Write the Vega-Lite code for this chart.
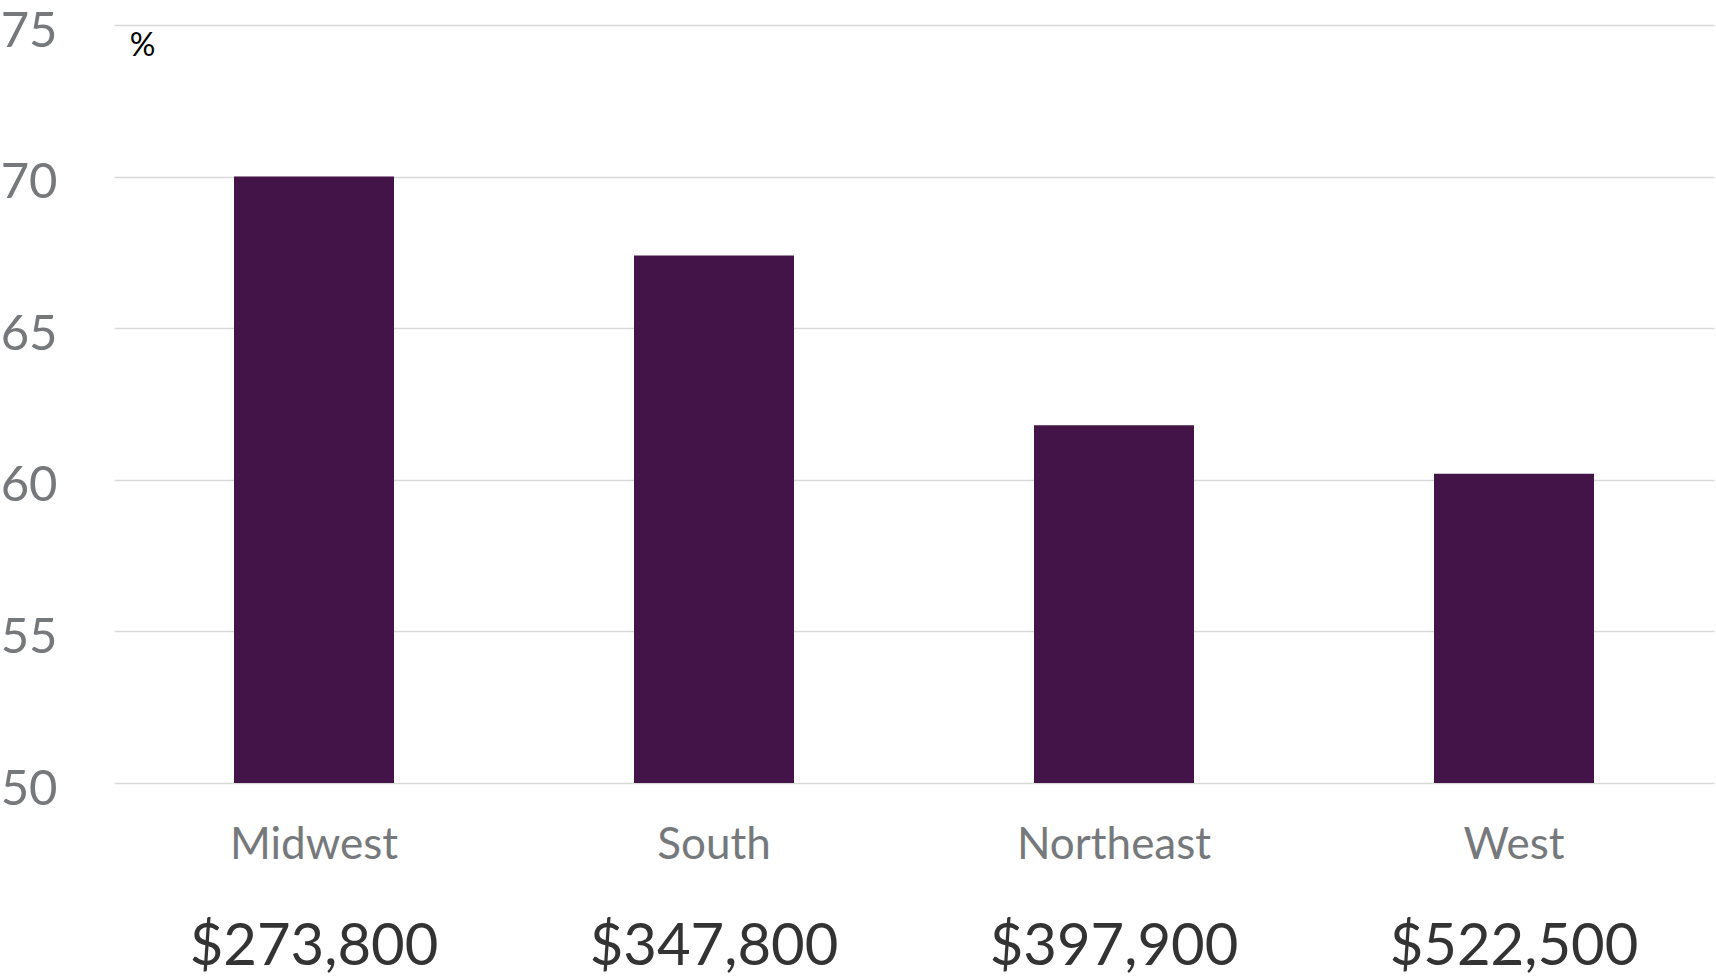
{
  "$schema": "https://vega.github.io/schema/vega-lite/v6.json",
  "width": 1600,
  "height": 758,
  "autosize": {"type": "none"},
  "padding": {"left": 114, "top": 25, "right": 2, "bottom": 193},
  "background": "#ffffff",
  "config": {
    "view": {"stroke": null},
    "font": "Lato"
  },
  "data": {
    "values": [
      {"region": "Midwest", "pct": 70.0, "price": "$273,800"},
      {"region": "South", "pct": 67.4, "price": "$347,800"},
      {"region": "Northeast", "pct": 61.8, "price": "$397,900"},
      {"region": "West", "pct": 60.2, "price": "$522,500"}
    ]
  },
  "encoding": {
    "x": {
      "field": "region",
      "type": "nominal",
      "sort": null,
      "scale": {"paddingInner": 0.6, "paddingOuter": 0.3},
      "axis": {
        "title": null,
        "domain": false,
        "ticks": false,
        "tickSize": 0,
        "labelAngle": 0,
        "labelLimit": 0,
        "labelFont": "Lato",
        "labelFontSize": 44,
        "labelColor": "#76797c",
        "labelPadding": 40
      }
    }
  },
  "layer": [
    {
      "mark": {"type": "bar", "color": "#421447"},
      "encoding": {
        "y": {
          "field": "pct",
          "type": "quantitative",
          "scale": {"domain": [50, 75], "zero": false, "nice": false},
          "axis": {
            "values": [50, 55, 60, 65, 70, 75],
            "domain": false,
            "ticks": false,
            "tickSize": 0,
            "labelFont": "Lato",
            "labelFontSize": 49,
            "labelColor": "#76797c",
            "labelPadding": 57,
            "labelOffset": 6,
            "labelFlush": false,
            "gridColor": "#d9d9d9",
            "gridWidth": 1.5,
            "title": "%",
            "titleAngle": 0,
            "titleX": 28,
            "titleY": 20,
            "titleAlign": "center",
            "titleBaseline": "middle",
            "titleFont": "Lato",
            "titleFontSize": 32,
            "titleFontWeight": "normal",
            "titleColor": "#000000"
          }
        },
        "y2": {"datum": 50}
      }
    },
    {
      "mark": {
        "type": "text",
        "font": "Lato",
        "fontSize": 58,
        "color": "#333333",
        "baseline": "alphabetic",
        "align": "center",
        "dy": 182
      },
      "encoding": {
        "y": {"datum": 50},
        "text": {"field": "price"}
      }
    }
  ]
}
